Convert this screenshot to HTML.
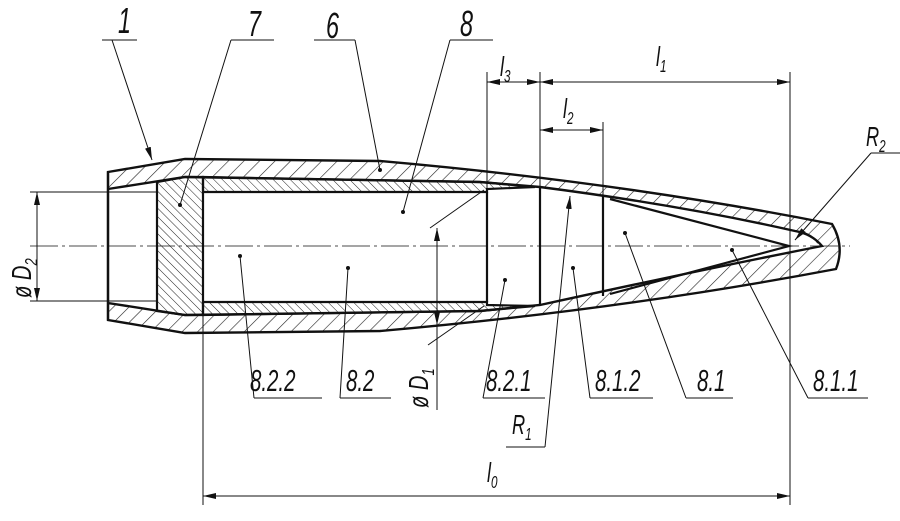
<!DOCTYPE html>
<html><head><meta charset="utf-8"><style>
html,body{margin:0;padding:0;background:#fff;}
svg{display:block;}
text{font-family:"Liberation Sans",sans-serif;font-style:italic;fill:#111;}
</style></head><body>
<svg width="900" height="521" viewBox="0 0 900 521" xmlns="http://www.w3.org/2000/svg">
<defs>
<pattern id="hj" patternUnits="userSpaceOnUse" width="11" height="11" patternTransform="rotate(45)">
<line x1="0" y1="0" x2="0" y2="11" stroke="#222" stroke-width="1.2"/></pattern>
<pattern id="hc" patternUnits="userSpaceOnUse" width="6" height="6" patternTransform="rotate(-45)">
<line x1="0" y1="0" x2="0" y2="6" stroke="#222" stroke-width="1"/></pattern>
<marker id="ar" markerWidth="13" markerHeight="6" refX="13" refY="3" orient="auto-start-reverse" markerUnits="userSpaceOnUse">
<path d="M0,0 L13,3 L0,6 z" fill="#111"/></marker>
</defs>
<g stroke="#111" fill="none">
<path fill="url(#hj)" fill-rule="evenodd" stroke-width="2.4" d="M108,172 L185,159 L380,161 Q620,182 832,224 Q845,246 836,269 Q620,310 380,331 L185,333 L108,320 Z
M108,189 L185,177 L480,182 L540,187 Q680,205 795,231 Q812,234 822,246 Q700,270 540,305 L480,311 L185,315 L108,303 Z"/>
<path fill="url(#hc)" stroke-width="2.2" d="M157,182 L185,177 L203,177 L203,315 L185,315 L157,311 Z"/>
<path fill="url(#hc)" stroke-width="2.2" d="M203,177 L480,182 L535,187 L487,189 L487,192 L203,192 Z"/>
<path fill="url(#hc)" stroke-width="2.2" d="M203,302 L487,302 L487,305 L535,306 L480,311 L203,315 Z"/>
<line x1="487" y1="192" x2="487" y2="302" stroke-width="2.2"/>
<line x1="540" y1="187" x2="540" y2="305" stroke-width="2.2"/>
<line x1="603" y1="196" x2="603" y2="296" stroke-width="2.2"/>
<path stroke-width="2.2" d="M610,199 L789,246 L610,294"/>
<path stroke-width="1.6" d="M795,231 Q810,232 818,243"/>
<line x1="108" y1="172" x2="108" y2="320" stroke-width="2.2"/>
<line x1="30" y1="246" x2="850" y2="246" stroke-width="0.8" stroke-dasharray="28,4,3,4"/>
<g stroke-width="1">
<line x1="30" y1="192" x2="157" y2="192"/>
<line x1="30" y1="301" x2="157" y2="301"/>
<line x1="487" y1="72" x2="487" y2="192"/>
<line x1="540" y1="72" x2="540" y2="187"/>
<line x1="603" y1="122" x2="603" y2="196"/>
<line x1="790" y1="72" x2="790" y2="505"/>
<line x1="203" y1="315" x2="203" y2="505"/>
<line x1="37" y1="192" x2="37" y2="301" marker-start="url(#ar)" marker-end="url(#ar)"/>
<line x1="487" y1="82" x2="540" y2="82" marker-start="url(#ar)" marker-end="url(#ar)"/>
<line x1="540" y1="82" x2="790" y2="82" marker-start="url(#ar)" marker-end="url(#ar)"/>
<line x1="540" y1="130" x2="603" y2="130" marker-start="url(#ar)" marker-end="url(#ar)"/>
<line x1="203" y1="496" x2="790" y2="496" marker-start="url(#ar)" marker-end="url(#ar)"/>
<line x1="437" y1="410" x2="437" y2="228" marker-end="url(#ar)"/>
<line x1="437" y1="300" x2="437" y2="325" marker-end="url(#ar)"/>
<line x1="430" y1="228" x2="484" y2="190"/>
<line x1="428" y1="345" x2="484" y2="306"/>
<path d="M102,40 H137"/><line x1="112" y1="40" x2="152" y2="160" marker-end="url(#ar)"/>
<path d="M231,40 H274 M231,40 L180,205"/>
<path d="M314,40 H355 M355,40 L380,170"/>
<path d="M450,40 H493 M450,40 L403,212"/>
<path d="M871,153 H900"/><line x1="871" y1="153" x2="795" y2="240" marker-end="url(#ar)"/>
<path d="M254,398 H322 M254,398 L240,256"/>
<path d="M340,398 H391 M340,398 L348,268"/>
<path d="M483,398 H545 M483,398 L505,280"/>
<path d="M590,398 H653 M590,398 L573,268"/>
<path d="M686,398 H733 M686,398 L625,233"/>
<path d="M808,398 H868 M808,398 L732,250"/>
<path d="M506,447 H545"/><line x1="545" y1="447" x2="570" y2="196" marker-end="url(#ar)"/>
</g>
</g>
<g fill="#111">
<circle cx="180" cy="205" r="2"/><circle cx="380" cy="170" r="2"/><circle cx="403" cy="212" r="2"/>
<circle cx="240" cy="256" r="2"/><circle cx="348" cy="268" r="2"/><circle cx="505" cy="280" r="2"/>
<circle cx="573" cy="268" r="2"/><circle cx="625" cy="233" r="2"/><circle cx="732" cy="250" r="2"/>
</g>
<g font-size="36">
<text transform="translate(118,33) scale(0.65,1)">1</text>
<text transform="translate(248,36) scale(0.65,1)">7</text>
<text transform="translate(326,38) scale(0.65,1)">6</text>
<text transform="translate(460,36) scale(0.65,1)">8</text>
</g>
<g font-size="31">
<text transform="translate(250,391) scale(0.66,1)">8.2.2</text>
<text transform="translate(346,391) scale(0.66,1)">8.2</text>
<text transform="translate(486,391) scale(0.66,1)">8.2.1</text>
<text transform="translate(595,391) scale(0.66,1)">8.1.2</text>
<text transform="translate(697,391) scale(0.66,1)">8.1</text>
<text transform="translate(813,391) scale(0.66,1)">8.1.1</text>
</g>
<g font-size="28">
<text transform="translate(500,76) scale(0.65,1)">l<tspan font-size="18" dy="6">3</tspan></text>
<text transform="translate(656,66) scale(0.65,1)">l<tspan font-size="18" dy="6">1</tspan></text>
<text transform="translate(563,118) scale(0.65,1)">l<tspan font-size="18" dy="6">2</tspan></text>
<text transform="translate(487,482) scale(0.65,1)">l<tspan font-size="18" dy="6">0</tspan></text>
<text transform="translate(866,146) scale(0.65,1)">R<tspan font-size="18" dy="6">2</tspan></text>
<text transform="translate(512,434) scale(0.65,1)">R<tspan font-size="18" dy="6">1</tspan></text>
<text transform="translate(31,298) rotate(-90) scale(0.72,1)">ø D<tspan font-size="18" dy="6">2</tspan></text>
<text transform="translate(428,408) rotate(-90) scale(0.72,1)">ø D<tspan font-size="18" dy="6">1</tspan></text>
</g>
</svg>
</body></html>
